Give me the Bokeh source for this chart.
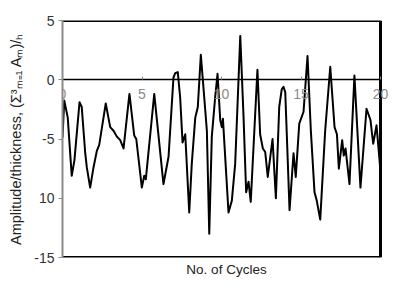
from bokeh.plotting import figure
from bokeh.models import Range1d, LinearAxis, FixedTicker, Title, Label
from bokeh.embed import file_html
from bokeh.resources import INLINE

cycles = [0.0, 0.11, 0.33, 0.58, 0.75, 1.07, 1.21, 1.43, 1.53, 1.74, 1.95, 2.16, 2.31,
          2.72, 3.0, 3.21, 3.42, 3.63, 3.84, 4.21, 4.51, 4.64, 4.99, 5.14, 5.24, 5.77,
          6.35, 6.67, 6.98, 7.09, 7.25, 7.40, 7.55, 7.72, 7.97, 8.13, 8.35, 8.51, 8.70,
          8.93, 9.08, 9.23, 9.39, 9.60, 9.75, 9.92, 10.02, 10.09, 10.44, 10.65, 10.86,
          11.18, 11.38, 11.55, 11.70, 11.84, 12.26, 12.43, 12.60, 12.75, 12.91, 13.21,
          13.42, 13.63, 13.79, 13.90, 14.01, 14.28, 14.53, 14.67, 14.89, 15.16, 15.41,
          15.62, 15.85, 15.99, 16.21, 16.52, 16.84, 17.11, 17.26, 17.38, 17.59, 17.69,
          17.80, 18.05, 18.36, 18.74, 19.12, 19.37, 19.54, 19.75, 19.96, 20.0]
amplitude = [-4.9, -1.75, -3.2, -8.1, -6.8, -1.9, -2.3, -6.2, -7.4, -9.1, -7.4, -6.0, -5.5,
             -2.0, -4.0, -4.3, -4.8, -5.1, -5.8, -1.2, -4.7, -5.0, -9.1, -8.1, -8.4, -1.2,
             -8.8, -6.5, 0.2, 0.55, 0.65, -1.5, -5.3, -4.6, -11.2, -7.1, -3.2, -2.3, 2.1,
             -1.75, -4.3, -13.0, -4.8, -1.5, 0.5, -3.4, -4.0, -3.3, -11.2, -10.2, -7.1,
             3.7, -2.9, -9.5, -8.6, -10.3, 0.85, -4.6, -5.8, -6.1, -8.2, -5.0,
             -10.0, -2.3, -0.8, -0.6, -1.05, -11.0, -6.2, -8.2, -3.7, -2.7, 2.0,
             -4.3, -9.5, -10.2, -11.8, -4.3, 1.1, -4.0, -4.6, -7.5, -5.1, -6.4,
             -5.8, -8.8, 0.35, -9.1, -2.45, -3.4, -5.4, -3.85, -7.1, -8.0]

x_ticks = [0, 5, 10, 15, 20]
x_tick_labels = ["0", "5", "10", "15", "20"]
y_ticks = [-15, -10, -5, 0, 5]
y_tick_labels = ["-15", "10", "-5", "0", "5"]

x_title = "No. of Cycles"
y_title = "Amplitude/thickness, (\u03a3\u00b3\u2098\u208c\u2081 A\u2098)/\u2095"

FONT = "Liberation Sans"

x0, x1 = x_ticks[0], x_ticks[-1]
y0, y1 = y_ticks[0], y_ticks[-1]

# frame is widened a little to the right so the "20" label is not clipped
p = figure(width=390, height=280, output_backend="svg", toolbar_location=None,
           x_range=Range1d(x0, x1 * 328 / 318), y_range=Range1d(y0, y1),
           x_axis_location=None, y_axis_location="left",
           min_border_left=62, min_border_right=0, min_border_top=20, min_border_bottom=23)
p.grid.visible = False
p.background_fill_color = "white"
p.border_fill_color = "white"
p.outline_line_color = None

# box around the data area
p.segment(x0=[x0, x0, x1], y0=[y1, y0, y0], x1=[x1, x1, x1], y1=[y1, y0, y1],
          line_color="black", line_width=3)

p.line(cycles, amplitude, line_color="black", line_width=2, line_join="round")

# y axis
ya = p.yaxis[0]
ya.ticker = FixedTicker(ticks=y_ticks)
ya.major_label_overrides = {t: l for t, l in zip(y_ticks, y_tick_labels)}
ya.axis_line_color = "#8a8a8a"
ya.axis_line_width = 2
ya.major_tick_line_color = "#8a8a8a"
ya.major_tick_out = 4
ya.major_tick_in = 0
ya.minor_tick_line_color = None
ya.major_label_text_font = FONT
ya.major_label_text_font_size = "14px"
ya.major_label_text_color = "#333333"
ya.major_label_standoff = 4
ya.axis_label = y_title
ya.axis_label_text_font = FONT
ya.axis_label_text_font_size = "14.5px"
ya.axis_label_text_font_style = "normal"
ya.axis_label_text_color = "#222222"
ya.axis_label_standoff = 7

# x axis drawn at y = 0
xa = LinearAxis(fixed_location=0, ticker=FixedTicker(ticks=x_ticks), bounds=(x0, x1))
xa.axis_line_color = "black"
xa.axis_line_width = 1.5
xa.major_tick_line_color = "#8a8a8a"
xa.major_tick_in = 3
xa.major_tick_out = 0
xa.minor_tick_line_color = None
xa.major_label_text_font_size = "0px"
xa.major_label_text_color = None
p.add_layout(xa, "below")

for tx, tl in zip(x_ticks, x_tick_labels):
    p.add_layout(Label(x=tx, y=0, text=tl, y_offset=-9,
                       text_align="center", text_baseline="top",
                       text_font=FONT, text_font_size="14px", text_color="#8a8a8a",
                       level="overlay"))

t = Title(text=x_title, align="center", text_font=FONT, text_font_size="13.5px",
          text_font_style="normal", text_color="#222222", standoff=5, offset=-5)
p.add_layout(t, "below")

open("out.html", "w").write(file_html(p, INLINE))
